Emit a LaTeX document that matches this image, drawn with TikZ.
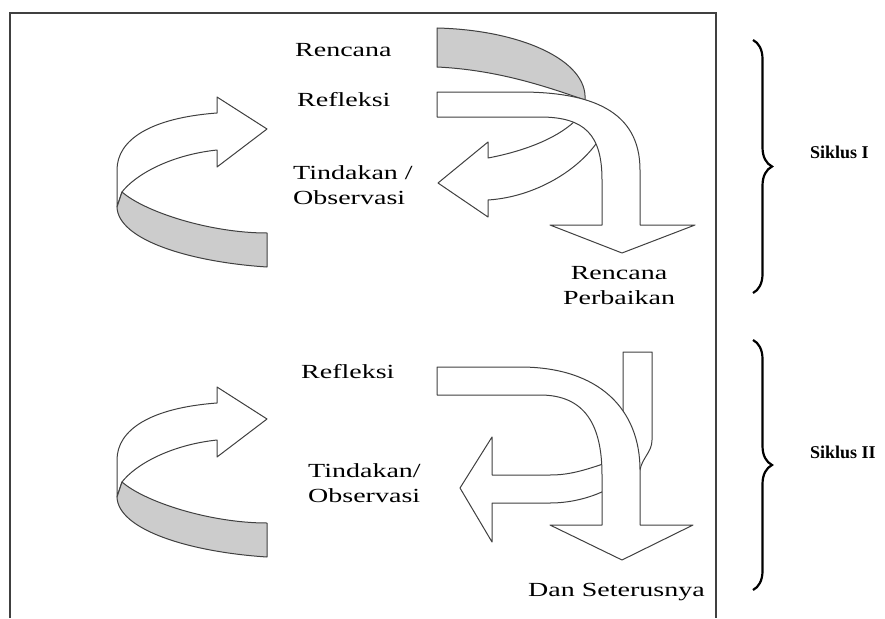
\documentclass[tikz,border=0pt]{standalone}
\usepackage{fontspec}
\setmainfont{Liberation Serif}
\newfontfamily\widefont{Liberation Serif}[FakeStretch=1.4]
\usetikzlibrary{decorations.pathreplacing}

\begin{document}
\begin{tikzpicture}[x=1pt,y=-1pt,
    ribbon/.style={draw=black!75,fill=white,line width=1pt,line join=round},
    shade/.style={ribbon,fill=black!20},
    lbl/.style={inner sep=0,anchor=west,align=left,
        font=\widefont\fontsize{20}{25}\selectfont},
    cyc/.style={inner sep=0,anchor=west,font=\bfseries\fontsize{18}{20}\selectfont},
    bracket/.style={draw,line width=2.2pt,decorate,decoration={brace,amplitude=19pt}}]

    \useasboundingbox (0,0) rectangle (885,618);

    % Frame, open at the bottom
    \draw[line width=2pt,black!75] (10,618) -- (10,13) -- (716,13) -- (716,618);

    % Turning arrow, cycle I
    \begin{scope}
        \draw[ribbon] (117,207) -- (117,170) .. controls (117,140) and (150,118) .. (217,113)
            -- (217,97) -- (267,129) -- (217,167) -- (217,150)
            .. controls (170,155) and (135,175) .. (122,192) -- cycle;
        \draw[shade] (122,192) .. controls (145,212) and (210,233) .. (267,233)
            -- (267,267) .. controls (190,262) and (118,240) .. (117,207) -- cycle;
    \end{scope}

    % Turning arrow, cycle II
    \begin{scope}[shift={(0,290)}]
        \draw[ribbon] (117,207) -- (117,170) .. controls (117,140) and (150,118) .. (217,113)
            -- (217,97) -- (267,129) -- (217,167) -- (217,150)
            .. controls (170,155) and (135,175) .. (122,192) -- cycle;
        \draw[shade] (122,192) .. controls (145,212) and (210,233) .. (267,233)
            -- (267,267) .. controls (190,262) and (118,240) .. (117,207) -- cycle;
    \end{scope}

    % Cycle I: rencana band, tindakan arrow, refleksi arrow
    \draw[shade] (437,28) .. controls (520,30) and (588,60) .. (585,100)
        .. controls (550,88) and (500,70) .. (437,67) -- cycle;
    \draw[ribbon] (575,121) .. controls (555,140) and (520,152) .. (488,158)
        -- (488,142) -- (438,183) -- (488,217) -- (488,200)
        .. controls (535,197) and (580,170) .. (600,138) -- cycle;
    \draw[ribbon] (437,92) -- (520,92) .. controls (590,92) and (640,110) .. (640,170)
        -- (640,225) -- (695,225) -- (622,253) -- (550,225) -- (602,225) -- (602,180)
        .. controls (602,135) and (585,117) .. (540,117) -- (437,117) -- cycle;

    % Cycle II: strip from above, tindakan arrow, refleksi arrow
    \draw[ribbon] (623,352) -- (652,352) -- (652,440)
        .. controls (652,452) and (642,458) .. (640,470) -- (623,420) -- cycle;
    \draw[ribbon] (606,463) .. controls (585,470) and (570,475) .. (550,475) -- (492,475)
        -- (492,437) -- (460,488) -- (492,542) -- (492,503) -- (550,503)
        .. controls (570,503) and (590,498) .. (606,490) -- cycle;
    \draw[ribbon] (437,367) -- (520,367) .. controls (600,367) and (640,410) .. (640,470)
        -- (640,525) -- (693,525) -- (622,560) -- (550,525) -- (602,525) -- (602,475)
        .. controls (602,425) and (585,395) .. (540,395) -- (437,395) -- cycle;

    % Braces
    \draw[bracket] (753,40) -- (753,293);
    \draw[bracket] (753,340) -- (753,590);

    % Labels
    \node[lbl] (rencana1) at (295,50) {Rencana};
    \node[lbl] (refleksi1) at (297,100) {Refleksi};
    \node[lbl] (tindakan1) at (293,185) {Tindakan /\\Observasi};
    \node[lbl,align=center,anchor=center] (perbaikan) at (619,286) {Rencana\\Perbaikan};
    \node[lbl] (refleksi2) at (301,372) {Refleksi};
    \node[lbl] (tindakan2) at (308,483) {Tindakan/\\Observasi};
    \node[lbl] (lanjut) at (528,592) {Dan Seterusnya};
    \node[cyc] (siklus1) at (810,152) {Siklus I};
    \node[cyc] (siklus2) at (810,452) {Siklus II};
\end{tikzpicture}
\end{document}
